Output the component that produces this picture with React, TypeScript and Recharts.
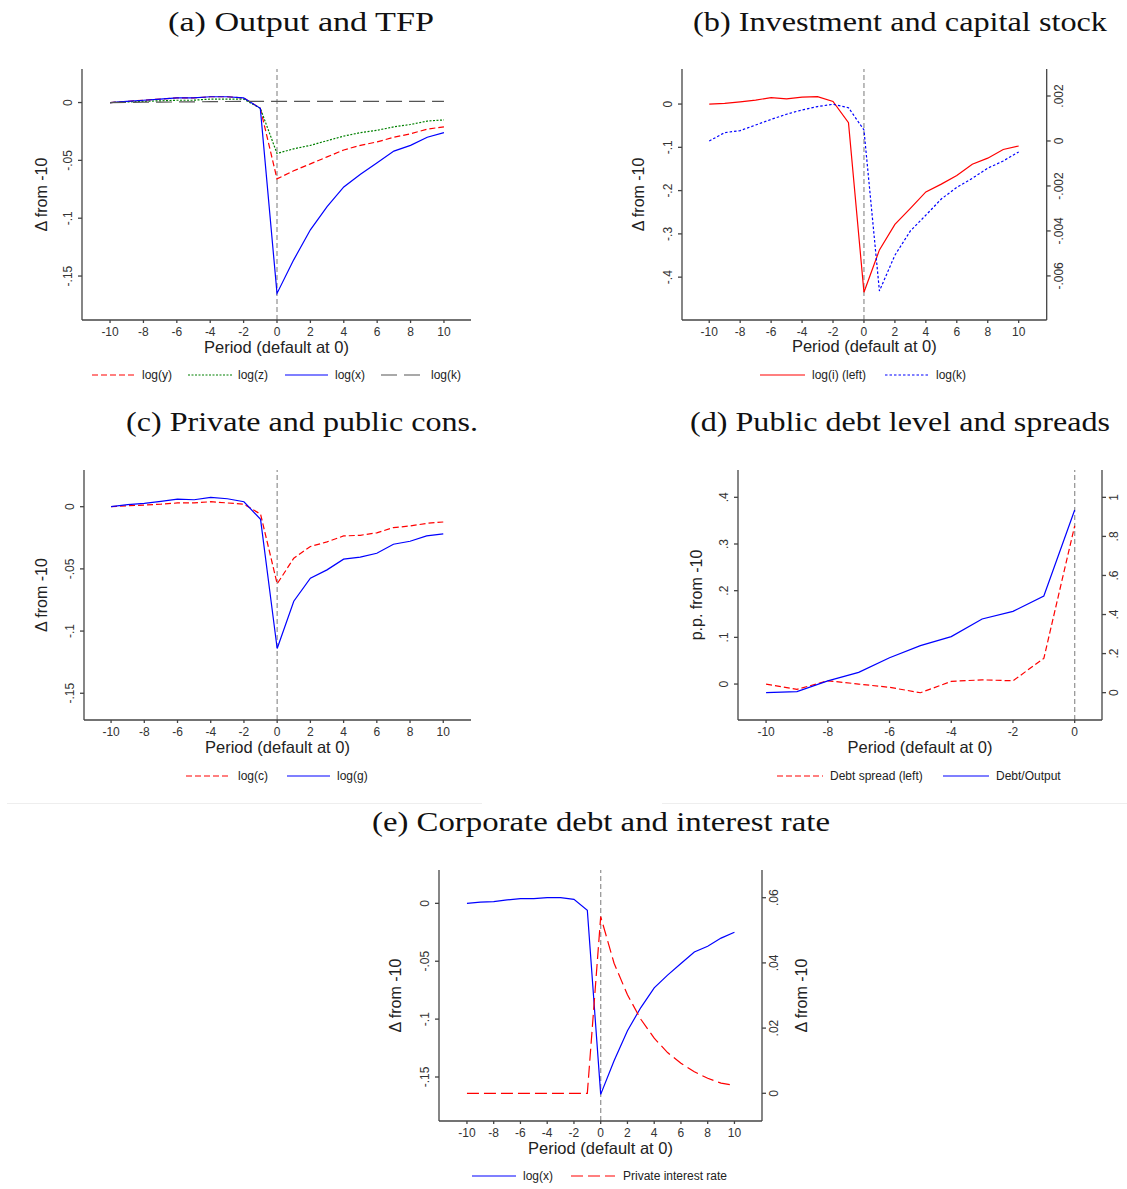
import React from 'react';
import { LineChart, Line, XAxis, YAxis, ReferenceLine } from 'recharts';

const periods = [-10, -9, -8, -7, -6, -5, -4, -3, -2, -1, 0, 1, 2, 3, 4, 5, 6, 7, 8, 9, 10];
const debtPeriods = [-10, -9, -8, -7, -6, -5, -4, -3, -2, -1, 0];

// (a) Output and TFP
const logYA = [0, 0.001, 0.002, 0.003, 0.004, 0.004, 0.005, 0.005, 0.004, -0.005, -0.066, -0.059, -0.053, -0.047, -0.041, -0.037, -0.034, -0.030, -0.027, -0.023, -0.021];
const logZA = [0, 0.0005, 0.001, 0.0015, 0.002, 0.002, 0.003, 0.003, 0.003, -0.005, -0.044, -0.040, -0.037, -0.033, -0.029, -0.026, -0.024, -0.021, -0.019, -0.016, -0.015];
const logXA = [0, 0.001, 0.002, 0.003, 0.004, 0.004, 0.005, 0.005, 0.004, -0.005, -0.165, -0.136, -0.110, -0.090, -0.073, -0.062, -0.052, -0.042, -0.037, -0.030, -0.026];
const logKA = [0, 0.0001, 0.0003, 0.0004, 0.0005, 0.0006, 0.0008, 0.0009, 0.001, 0.001, 0.001, 0.001, 0.001, 0.001, 0.001, 0.001, 0.001, 0.001, 0.001, 0.001, 0.001];

// (b) Investment and capital stock
const logIB = [0, 0.0015, 0.005, 0.009, 0.015, 0.012, 0.016, 0.017, 0.006, -0.043, -0.435, -0.337, -0.278, -0.241, -0.203, -0.185, -0.165, -0.139, -0.125, -0.105, -0.097];
const logKB = [0, 0.00037, 0.00046, 0.00071, 0.00096, 0.00119, 0.00138, 0.00153, 0.00163, 0.00148, 0.00049, -0.00667, -0.00508, -0.0040, -0.0033, -0.00258, -0.00206, -0.00166, -0.00121, -0.00089, -0.00049];

// (c) Private and public cons.
const logC = [0, 0.0008, 0.0013, 0.002, 0.003, 0.003, 0.004, 0.003, 0.002, -0.006, -0.062, -0.0414, -0.032, -0.0283, -0.0235, -0.023, -0.021, -0.0168, -0.0155, -0.0134, -0.0123];
const logG = [0, 0.0016, 0.0027, 0.0043, 0.0061, 0.0056, 0.0075, 0.0064, 0.004, -0.0102, -0.114, -0.076, -0.0575, -0.0508, -0.0422, -0.0406, -0.0374, -0.0302, -0.0278, -0.0235, -0.0219];

// (d) Public debt level and spreads
const debtSpread = [0, -0.0114, 0.007, 0, -0.007, -0.0186, 0.0057, 0.009, 0.007, 0.055, 0.339];
const debtOutput = [0, 0.005, 0.06, 0.104, 0.179, 0.241, 0.287, 0.377, 0.416, 0.495, 0.935];

// (e) Corporate debt and interest rate
const logXE = [0, 0.001, 0.0015, 0.003, 0.004, 0.004, 0.005, 0.005, 0.0035, -0.006, -0.165, -0.136, -0.110, -0.090, -0.073, -0.062, -0.052, -0.042, -0.037, -0.030, -0.025];
const privateRate = [0, 0, 0, 0, 0, 0, 0, 0, 0, 0, 0.0542, 0.0399, 0.0302, 0.0227, 0.0169, 0.0125, 0.0092, 0.0066, 0.0046, 0.0031, 0.0024];

const xTicks = [-10, -8, -6, -4, -2, 0, 2, 4, 6, 8, 10];
const xTicksD = [-10, -8, -6, -4, -2, 0];
const yTicksSmall = [0, -0.05, -0.1, -0.15];
const yTicksB = [0, -0.1, -0.2, -0.3, -0.4];
const yTicksBRight = [0.002, 0, -0.002, -0.004, -0.006];
const yTicksD = [0, 0.1, 0.2, 0.3, 0.4];
const yTicksDRight = [0, 0.2, 0.4, 0.6, 0.8, 1];
const yTicksERight = [0, 0.02, 0.04, 0.06];

const SANS = '"Liberation Sans", Arial, Helvetica, sans-serif';
const SERIF = '"Liberation Serif", "Times New Roman", serif';
const RED = '#ff0000';
const BLUE = '#0000ff';
const GREEN = '#008000';

const stata = (v: number) => (v === 0 ? '0' : String(v).replace('0.', '.'));

const VTick = (props: any) => {
  const { x, y, payload } = props;
  return (
    <text x={x} y={y} transform={`rotate(-90 ${x} ${y})`} textAnchor="middle" dominantBaseline="central"
      fontSize={12} fill="#333" fontFamily={SANS}>
      {stata(payload.value)}
    </text>
  );
};

type Series = { key: string; color: string; dash?: string; axis: 'left' | 'right' };

type PanelProps = {
  L: number; T: number; R: number; B: number;
  data: any[];
  series: Series[];
  xDomain: [number, number]; xTicks: number[];
  leftDomain: [number, number]; leftTicks: number[]; leftLabel: string; leftLabelX: number;
  rightDomain?: [number, number]; rightTicks?: number[]; rightLabel?: string; rightLabelX?: number;
};

function Panel(p: PanelProps) {
  const hasRight = !!p.rightDomain;
  const yw = 60;
  const rw = hasRight ? 60 : 10;
  const width = p.R - p.L + yw + rw;
  const height = p.B - p.T + 10 + 40;
  const left = p.L - yw;
  return (
    <div style={{ position: 'absolute', left, top: p.T - 10 }}>
      <LineChart width={width} height={height} data={p.data}
        margin={{ top: 10, right: hasRight ? 0 : 10, left: 0, bottom: 0 }}>
        <XAxis dataKey="p" type="number" domain={p.xDomain} ticks={p.xTicks} interval={0}
          height={40} tickSize={3} tickMargin={4} stroke="#444" strokeWidth={1.3}
          tick={{ fontSize: 12, fill: '#333', fontFamily: SANS }}
          label={{ value: 'Period (default at 0)', position: 'insideBottom', offset: 7.5,
            style: { fontSize: 16.5, fill: '#222', fontFamily: SANS } }} />
        <YAxis yAxisId="left" type="number" domain={p.leftDomain} ticks={p.leftTicks} interval={0}
          width={yw} tickSize={4} tickMargin={10} stroke="#444" strokeWidth={1.3} tick={<VTick />}
          label={{ value: p.leftLabel, angle: -90, position: 'insideLeft', offset: p.leftLabelX - left,
            style: { fontSize: 16, fill: '#222', fontFamily: SANS, textAnchor: 'middle' } }} />
        {hasRight && (
          <YAxis yAxisId="right" orientation="right" type="number" domain={p.rightDomain}
            ticks={p.rightTicks} interval={0} width={60} tickSize={4} tickMargin={8}
            stroke="#444" strokeWidth={1.3} tick={<VTick />}
            label={p.rightLabel ? { value: p.rightLabel, angle: -90, position: 'insideRight',
              offset: p.R + 60 - (p.rightLabelX || 0),
              style: { fontSize: 16, fill: '#222', fontFamily: SANS, textAnchor: 'middle' } } : undefined} />
        )}
        <ReferenceLine yAxisId="left" x={0} stroke="#999" strokeWidth={1.3} strokeDasharray="5 3" />
        {p.series.map((s) => (
          <Line key={s.key} yAxisId={s.axis} type="linear" dataKey={s.key} stroke={s.color}
            strokeWidth={1.2} strokeDasharray={s.dash} dot={false} isAnimationActive={false} />
        ))}
      </LineChart>
    </div>
  );
}

type LegendItem = { label: string; color: string; dash?: string; x1: number; x2: number; tx: number };

function Legend({ y, items }: { y: number; items: LegendItem[] }) {
  return (
    <>
      {items.map((it) => (
        <React.Fragment key={it.label}>
          <svg style={{ position: 'absolute', left: it.x1, top: y - 5 }} width={it.x2 - it.x1} height={10}>
            <line x1={0} y1={5} x2={it.x2 - it.x1} y2={5} stroke={it.color} strokeWidth={1.2}
              strokeDasharray={it.dash} />
          </svg>
          <div style={{ position: 'absolute', left: it.tx, top: y - 8, height: 16, lineHeight: '16px',
            fontSize: 12, color: '#222', fontFamily: SANS, whiteSpace: 'nowrap' }}>{it.label}</div>
        </React.Fragment>
      ))}
    </>
  );
}

const titles = [
  { text: '(a) Output and TFP', x1: 168, x2: 434, y: 31 },
  { text: '(b) Investment and capital stock', x1: 693, x2: 1107, y: 31 },
  { text: '(c) Private and public cons.', x1: 126, x2: 478, y: 431 },
  { text: '(d) Public debt level and spreads', x1: 690, x2: 1110, y: 431 },
  { text: '(e) Corporate debt and interest rate', x1: 372, x2: 830, y: 831 },
];

export default function App() {
  const dataA = periods.map((p, i) => ({ p, y: logYA[i], z: logZA[i], x: logXA[i], k: logKA[i] }));
  const dataB = periods.map((p, i) => ({ p, i: logIB[i], k: logKB[i] }));
  const dataC = periods.map((p, i) => ({ p, c: logC[i], g: logG[i] }));
  const dataD = debtPeriods.map((p, i) => ({ p, s: debtSpread[i], d: debtOutput[i] }));
  const dataE = periods.map((p, i) => ({ p, x: logXE[i], r: privateRate[i] }));

  return (
    <div style={{ position: 'absolute', left: 0, top: 0, width: 1127, height: 1189, background: '#fff', overflow: 'hidden' }}>
      <svg style={{ position: 'absolute', left: 0, top: 0 }} width={1127} height={1189}>
        {titles.map((t) => (
          <text key={t.text} x={t.x1} y={t.y} textLength={t.x2 - t.x1} lengthAdjust="spacingAndGlyphs"
            fontSize={27} fontFamily={SERIF} fill="#111">{t.text}</text>
        ))}
        <line x1={7} y1={803.5} x2={482} y2={803.5} stroke="#eee" strokeWidth={1} />
        <line x1={662} y1={803.5} x2={1127} y2={803.5} stroke="#eee" strokeWidth={1} />
      </svg>

      <Panel L={82} T={69} R={471} B={320} data={dataA}
        series={[
          { key: 'y', color: RED, dash: '6 3', axis: 'left' },
          { key: 'z', color: GREEN, dash: '2 1.5', axis: 'left' },
          { key: 'x', color: BLUE, axis: 'left' },
          { key: 'k', color: '#555', dash: '16 7', axis: 'left' },
        ]}
        xDomain={[-11.68, 11.62]} xTicks={xTicks}
        leftDomain={[-0.188, 0.029]} leftTicks={yTicksSmall} leftLabel="Δ from -10" leftLabelX={41.7} />
      <Legend y={375} items={[
        { label: 'log(y)', color: RED, dash: '6 3', x1: 92, x2: 135, tx: 142 },
        { label: 'log(z)', color: GREEN, dash: '2 1.5', x1: 188, x2: 232, tx: 238 },
        { label: 'log(x)', color: BLUE, x1: 285, x2: 328, tx: 335 },
        { label: 'log(k)', color: '#555', dash: '16 7', x1: 381, x2: 424, tx: 431 },
      ]} />

      <Panel L={682} T={69} R={1046.7} B={320} data={dataB}
        series={[
          { key: 'i', color: RED, axis: 'left' },
          { key: 'k', color: BLUE, dash: '2.5 2', axis: 'right' },
        ]}
        xDomain={[-11.76, 11.81]} xTicks={xTicks}
        leftDomain={[-0.499, 0.081]} leftTicks={yTicksB} leftLabel="Δ from -10" leftLabelX={638.3}
        rightDomain={[-0.00796, 0.0032]} rightTicks={yTicksBRight} />
      <Legend y={375} items={[
        { label: 'log(i) (left)', color: RED, x1: 760, x2: 805, tx: 812 },
        { label: 'log(k)', color: BLUE, dash: '2.5 2', x1: 885, x2: 929, tx: 936 },
      ]} />

      <Panel L={84} T={470} R={471} B={720} data={dataC}
        series={[
          { key: 'c', color: RED, dash: '6 3', axis: 'left' },
          { key: 'g', color: BLUE, axis: 'left' },
        ]}
        xDomain={[-11.63, 11.67]} xTicks={xTicks}
        leftDomain={[-0.1715, 0.0295]} leftTicks={yTicksSmall} leftLabel="Δ from -10" leftLabelX={41.7} />
      <Legend y={775.7} items={[
        { label: 'log(c)', color: RED, dash: '6 3', x1: 186, x2: 231, tx: 238 },
        { label: 'log(g)', color: BLUE, x1: 287, x2: 330, tx: 337 },
      ]} />

      <Panel L={738} T={470} R={1102} B={720} data={dataD}
        series={[
          { key: 's', color: RED, dash: '6 3', axis: 'left' },
          { key: 'd', color: BLUE, axis: 'right' },
        ]}
        xDomain={[-10.91, 0.885]} xTicks={xTicksD}
        leftDomain={[-0.077, 0.4585]} leftTicks={yTicksD} leftLabel="p.p. from -10" leftLabelX={696}
        rightDomain={[-0.14, 1.14]} rightTicks={yTicksDRight} />
      <Legend y={775.7} items={[
        { label: 'Debt spread (left)', color: RED, dash: '6 3', x1: 777, x2: 823, tx: 830 },
        { label: 'Debt/Output', color: BLUE, x1: 943, x2: 989, tx: 996 },
      ]} />

      <Panel L={439.3} T={870} R={762.3} B={1121} data={dataE}
        series={[
          { key: 'x', color: BLUE, axis: 'left' },
          { key: 'r', color: RED, dash: '12 5', axis: 'right' },
        ]}
        xDomain={[-12.09, 12.06]} xTicks={xTicks}
        leftDomain={[-0.188, 0.0288]} leftTicks={yTicksSmall} leftLabel="Δ from -10" leftLabelX={396}
        rightDomain={[-0.0085, 0.0685]} rightTicks={yTicksERight} rightLabel="Δ from -10" rightLabelX={801.7} />
      <Legend y={1175.7} items={[
        { label: 'log(x)', color: BLUE, x1: 472, x2: 516, tx: 523 },
        { label: 'Private interest rate', color: RED, dash: '12 5', x1: 571, x2: 615, tx: 623 },
      ]} />
    </div>
  );
}
